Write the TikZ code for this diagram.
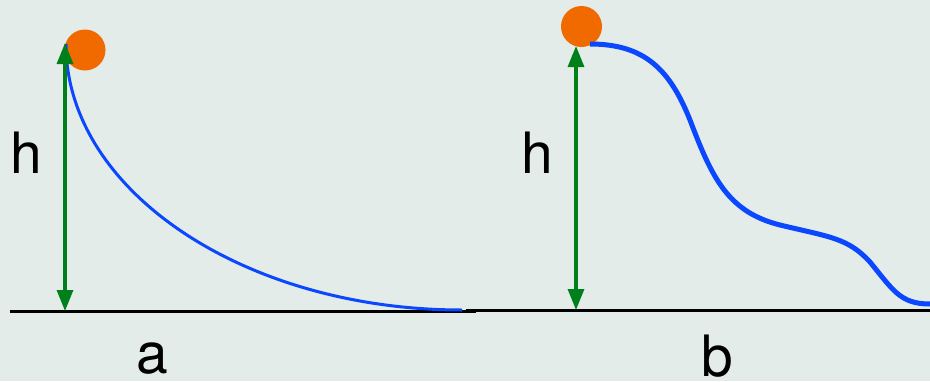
\documentclass[tikz,border=0pt]{standalone}
\usepackage{fontspec}
\setmainfont{TeX Gyre Heros}
\usetikzlibrary{arrows.meta}
\definecolor{bgc}{HTML}{E3ECE8}
\definecolor{ballc}{HTML}{F06A00}
\definecolor{pathc}{HTML}{0A47FF}
\definecolor{hc}{HTML}{00801A}
\tikzset{
  ball/.style={circle,fill=ballc,minimum size=41pt,inner sep=0pt},
  ground/.style={line width=3pt,black},
  harrow/.style={line width=3.2pt,hc,{Triangle[width=16pt,length=21pt]}-{Triangle[width=16pt,length=21pt]}},
  lbl/.style={font=\fontsize{57}{57}\selectfont,anchor=base,inner sep=0pt},
}
\begin{document}
\begin{tikzpicture}[x=1pt,y=-1pt]
\fill[bgc] (0,0) rectangle (930,381);
\useasboundingbox (0,0) rectangle (930,381);
% balls
\node[ball] (ballA) at (85,50) {};
\node[ball] (ballB) at (581.5,26.5) {};
% ground lines
\coordinate (gAl) at (10,311);
\coordinate (gAr) at (476,311);
\coordinate (gBl) at (466,310);
\coordinate (gBr) at (930,310);
\draw[ground] (gAl) -- (gAr);
\draw[ground] (gBl) -- (gBr);
% curve a
\coordinate (cAs) at (66,44);
\coordinate (cAe) at (462,310);
\draw[pathc,line width=3pt] (cAs) .. controls (66,191) and (245,310) .. (cAe);
% curve b
\coordinate (cBs) at (590,44);
\coordinate (cBe) at (930,304);
\draw[pathc,line width=5pt] (cBs) .. controls (645,44) and (670,70) .. (690,120)
  .. controls (712,178) and (728,212) .. (780,225)
  .. controls (830,237) and (848,238) .. (870,262)
  .. controls (893,290) and (900,304) .. (cBe);
% height arrows
\coordinate (hAt) at (65,43);
\coordinate (hAb) at (65,311);
\coordinate (hBt) at (576,46);
\coordinate (hBb) at (576,310);
\draw[harrow] (hAb) -- (hAt);
\draw[harrow] (hBb) -- (hBt);
% labels
\node[lbl] (hA) at (26,173) {h};
\node[lbl] (hB) at (537,173) {h};
\node[lbl] (la) at (152,373) {a};
\node[lbl] (lb) at (717,376) {b};
\end{tikzpicture}
\end{document}
